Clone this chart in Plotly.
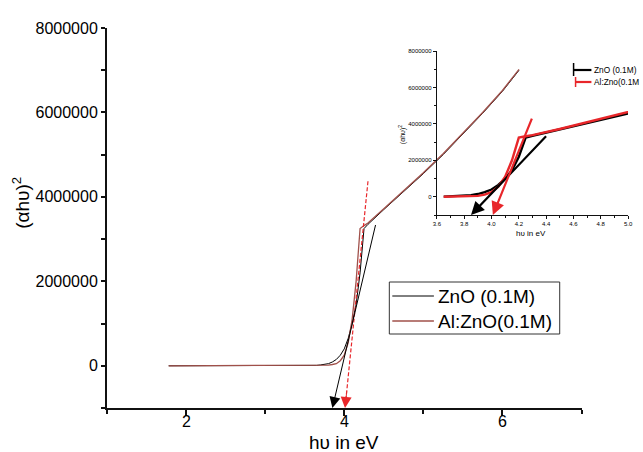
import plotly.graph_objects as go

# ---------------- data ----------------
energy_zno = [1.78, 2.5, 3.0, 3.4, 3.65, 3.7, 3.8, 3.85, 3.9, 3.95, 4.0, 4.05, 4.1, 4.15, 4.2, 4.25,
              4.3, 4.5, 4.75, 5.0, 5.25, 5.5, 5.75, 6.0, 6.21]
alpha_zno = [0, 0, 0, 5e3, 1e4, 2e4, 5e4, 9e4, 1.5e5, 2.5e5, 4.0e5, 6.5e5, 1.0e6, 1.45e6, 2.2e6, 3.25e6,
             3.35e6, 3.7e6, 4.12e6, 4.55e6, 5.0e6, 5.48e6, 5.98e6, 6.5e6, 7.0e6]

energy_al = [1.78, 2.5, 3.0, 3.4, 3.65, 3.7, 3.8, 3.85, 3.9, 3.95, 4.0, 4.05, 4.1, 4.15, 4.2, 4.25,
             4.3, 4.5, 4.75, 5.0, 5.25, 5.5, 5.75, 6.0, 6.21]
alpha_al = [0, 0, 0, 2e3, 5e3, 8e3, 1.5e4, 3e4, 5e4, 1.2e5, 2.5e5, 5.5e5, 1.1e6, 2.0e6, 3.25e6, 3.32e6,
            3.38e6, 3.72e6, 4.14e6, 4.57e6, 5.02e6, 5.5e6, 6.0e6, 6.52e6, 7.02e6]

# tangent (Tauc) lines: [upper end, arrow tip on axis]
tan_zno_x = [4.40, 3.85]
tan_zno_y = [3.37e6, -1.0e6]
tan_al_x = [4.30, 4.01]
tan_al_y = [4.37e6, -1.0e6]

main_xticks = [2, 4, 6]
main_yticks = [0, 2000000, 4000000, 6000000, 8000000]
inset_xticks = [3.6, 3.8, 4.0, 4.2, 4.4, 4.6, 4.8, 5.0]
inset_yticks = [0, 2000000, 4000000, 6000000, 8000000]
inset_start = 3.65

series_names = ["ZnO (0.1M)", "Al:ZnO(0.1M)"]
inset_names = ["ZnO (0.1M)", "Al:Zno(0.1M"]

# ---------------- layout helpers ----------------
W, H = 643, 452
ML, MR, MT, MB = 107, 3, 28, 44
PW, PH = W - ML - MR, H - MT - MB


def px(x):
    return (x - ML) / PW


def py(y):
    return (H - MB - y) / PH


FONT = "Arial, Liberation Sans, sans-serif"
BROWN = "#A0504A"
RED = "#E8262A"
AXC = "#111111"
main_colors = ["black", BROWN]

fig = go.Figure()

# main curves
fig.add_trace(go.Scatter(x=energy_zno, y=alpha_zno, mode="lines", name=series_names[0],
                         line=dict(color=main_colors[0], width=1), xaxis="x", yaxis="y"))
fig.add_trace(go.Scatter(x=energy_al, y=alpha_al, mode="lines", name=series_names[1],
                         line=dict(color=main_colors[1], width=1.3), xaxis="x", yaxis="y"))
# dashed red tangent in main
fig.add_trace(go.Scatter(x=tan_al_x, y=tan_al_y, mode="lines", showlegend=False,
                         line=dict(color=RED, width=1.2, dash="4px,2px"), xaxis="x", yaxis="y"))

# inset curves
iz = [(x, y) for x, y in zip(energy_zno, alpha_zno) if x >= inset_start]
ia = [(x, y) for x, y in zip(energy_al, alpha_al) if x >= inset_start]
fig.add_trace(go.Scatter(x=[p[0] for p in iz], y=[p[1] for p in iz], mode="lines", showlegend=False,
                         line=dict(color="black", width=2.4), xaxis="x2", yaxis="y2", cliponaxis=True))
fig.add_trace(go.Scatter(x=[p[0] for p in ia], y=[p[1] for p in ia], mode="lines", showlegend=False,
                         line=dict(color=RED, width=2.4), xaxis="x2", yaxis="y2", cliponaxis=True))

annotations = []
# main black tangent with arrow
annotations.append(dict(x=tan_zno_x[1], y=tan_zno_y[1], ax=tan_zno_x[0], ay=tan_zno_y[0],
                        xref="x", yref="y", axref="x", ayref="y", text="", showarrow=True,
                        arrowhead=2, arrowsize=2.2, arrowwidth=1, arrowcolor="black"))
# main red arrow head only
f = 0.08
annotations.append(dict(x=tan_al_x[1], y=tan_al_y[1],
                        ax=tan_al_x[1] + f * (tan_al_x[0] - tan_al_x[1]),
                        ay=tan_al_y[1] + f * (tan_al_y[0] - tan_al_y[1]),
                        xref="x", yref="y", axref="x", ayref="y", text="", showarrow=True,
                        arrowhead=2, arrowsize=2.2, arrowwidth=1, arrowcolor=RED))
# inset tangents
annotations.append(dict(x=tan_zno_x[1], y=tan_zno_y[1], ax=tan_zno_x[0] + 0.01, ay=tan_zno_y[0] + 0.03e6,
                        xref="x2", yref="y2", axref="x2", ayref="y2", text="", showarrow=True,
                        arrowhead=2, arrowsize=1.2, arrowwidth=2.2, arrowcolor="black"))
annotations.append(dict(x=tan_al_x[1], y=tan_al_y[1], ax=tan_al_x[0], ay=tan_al_y[0],
                        xref="x2", yref="y2", axref="x2", ayref="y2", text="", showarrow=True,
                        arrowhead=2, arrowsize=1.2, arrowwidth=2.2, arrowcolor=RED))

# main x tick labels (placed through the x scale)
for v in main_xticks:
    annotations.append(dict(x=v, y=py(422), xref="x", yref="paper", text=str(v), showarrow=False,
                            font=dict(family=FONT, size=16, color="black"),
                            xanchor="center", yanchor="middle"))

# axis titles
annotations.append(dict(x=px(20), y=py(203), xref="paper", yref="paper", text="(αhυ)<sup>2</sup>",
                        textangle=-90, showarrow=False, font=dict(family=FONT, size=19, color="black"),
                        xanchor="center", yanchor="middle"))
annotations.append(dict(x=px(346.5), y=py(442), xref="paper", yref="paper", text="hυ in eV",
                        showarrow=False, font=dict(family=FONT, size=19, color="black"),
                        xanchor="center", yanchor="middle"))
annotations.append(dict(x=px(405), y=py(135), xref="paper", yref="paper", text="(αhυ)<sup>2</sup>",
                        textangle=-90, showarrow=False, font=dict(family=FONT, size=7, color="black"),
                        xanchor="center", yanchor="middle"))
annotations.append(dict(x=px(535), y=py(233), xref="paper", yref="paper", text="hυ in eV",
                        showarrow=False, font=dict(family=FONT, size=8, color="black"),
                        xanchor="center", yanchor="middle"))
# inset legend text
annotations.append(dict(x=px(597), y=py(70), xref="paper", yref="paper", text=inset_names[0],
                        showarrow=False, font=dict(family=FONT, size=8.3, color="black"),
                        xanchor="left", yanchor="middle"))
annotations.append(dict(x=px(597), y=py(82), xref="paper", yref="paper", text=inset_names[1],
                        showarrow=False, font=dict(family=FONT, size=8.3, color="black"),
                        xanchor="left", yanchor="middle"))

# main legend (drawn box, sample lines and labels)
leg_rows = [296, 321]
for name, color, row in zip(series_names, main_colors, leg_rows):
    annotations.append(dict(x=px(439), y=py(row), xref="paper", yref="paper", text=name,
                            showarrow=False, font=dict(family=FONT, size=19, color="black"),
                            xanchor="left", yanchor="middle"))

shapes = [
    dict(type="rect", xref="paper", yref="paper", x0=px(392), x1=px(564), y0=py(282), y1=py(334),
         line=dict(color="#333", width=1), fillcolor="white", layer="above"),
    dict(type="line", xref="paper", yref="paper", x0=px(395), x1=px(437), y0=py(leg_rows[0]),
         y1=py(leg_rows[0]), line=dict(color=main_colors[0], width=1)),
    dict(type="line", xref="paper", yref="paper", x0=px(395), x1=px(437), y0=py(leg_rows[1]),
         y1=py(leg_rows[1]), line=dict(color=main_colors[1], width=1.6)),
    dict(type="line", xref="paper", yref="paper", x0=px(578), x1=px(578), y0=py(63), y1=py(76),
         line=dict(color="black", width=1.5)),
    dict(type="line", xref="paper", yref="paper", x0=px(578), x1=px(596), y0=py(70), y1=py(70),
         line=dict(color="black", width=2.2)),
    dict(type="line", xref="paper", yref="paper", x0=px(580), x1=px(580), y0=py(77), y1=py(87),
         line=dict(color=RED, width=1.5)),
    dict(type="line", xref="paper", yref="paper", x0=px(580), x1=px(596), y0=py(82), y1=py(82),
         line=dict(color=RED, width=2.2)),
]

axis_common = dict(showline=True, linecolor=AXC, showgrid=False, zeroline=False,
                   ticks="outside", tickcolor=AXC)

fig.update_layout(
    width=W, height=H,
    margin=dict(l=ML, r=MR, t=MT, b=MB, pad=0),
    paper_bgcolor="white", plot_bgcolor="rgba(0,0,0,0)",
    font=dict(family=FONT, color="black"),
    showlegend=False,
    xaxis=dict(axis_common, domain=[0, px(586)], range=[1, 7], linewidth=2, tickwidth=1.8, ticklen=6,
               tickvals=main_xticks, showticklabels=False,
               minor=dict(tickvals=[1, 3, 5, 7], ticks="outside", ticklen=4, tickwidth=1.8, tickcolor=AXC),
               anchor="y"),
    yaxis=dict(axis_common, domain=[0, 1], range=[-1e6, 8e6], linewidth=2, tickwidth=1.8, ticklen=4,
               tickvals=main_yticks, ticktext=[str(v) for v in main_yticks],
               tickfont=dict(family=FONT, size=16, color="black"),
               minor=dict(tickvals=[-1e6, 1e6, 3e6, 5e6, 7e6], ticks="outside", ticklen=4, tickwidth=1.8,
                          tickcolor=AXC),
               anchor="x"),
    xaxis2=dict(axis_common, domain=[px(440), px(633)], range=[3.6, 5.0], linewidth=1.2, tickwidth=1, ticklen=3,
                tickvals=inset_xticks, ticktext=["%.1f" % v for v in inset_xticks],
                tickfont=dict(family=FONT, size=6, color="black"),
                minor=dict(dtick=0.1, ticks="outside", ticklen=2, tickcolor=AXC),
                anchor="y2"),
    yaxis2=dict(axis_common, domain=[py(215), py(51)], range=[-1e6, 8e6], linewidth=1.2, tickwidth=1, ticklen=3,
                tickvals=inset_yticks, ticktext=[str(v) for v in inset_yticks],
                tickfont=dict(family=FONT, size=6, color="black"),
                minor=dict(dtick=1e6, ticks="outside", ticklen=2, tickcolor=AXC),
                anchor="x2"),
    annotations=annotations,
    shapes=shapes,
)

fig.write_html("out.html")
